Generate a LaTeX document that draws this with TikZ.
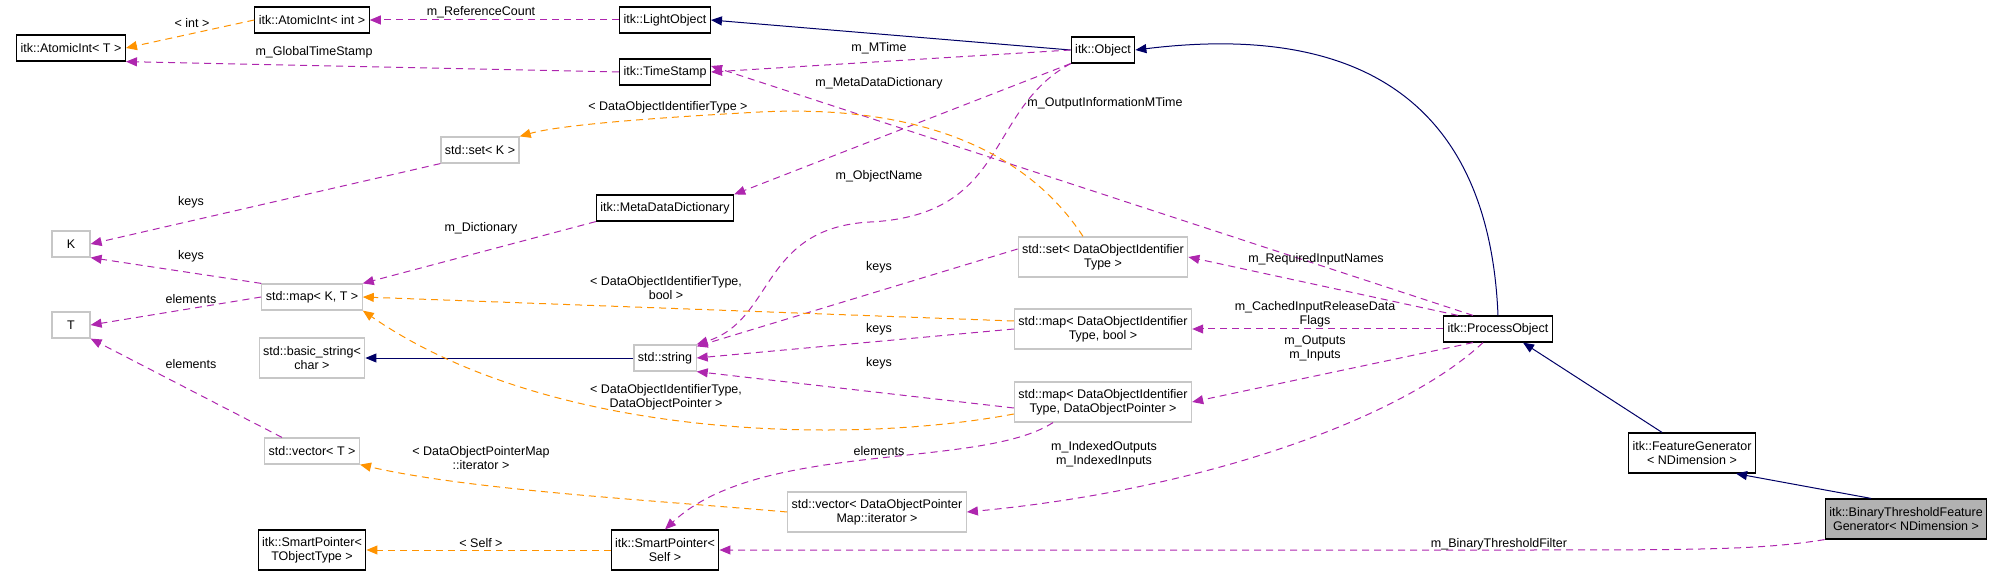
\documentclass[tikz,border=0pt]{standalone}
\usepackage{fontspec}
\setmainfont{Liberation Sans}
\usetikzlibrary{arrows.meta}
\begin{document}
\begin{tikzpicture}[x=1pt,y=-1pt,font=\fontsize{12.5}{14}\selectfont,
 cls/.style={draw=black,line width=1.2pt,fill=white,inner sep=4pt,align=center,minimum height=26pt},
 ext/.style={draw=black!22,line width=1.2pt,fill=white,inner sep=4pt,align=center,minimum height=26pt},
 two/.style={minimum height=40pt},
 inh/.style={-{Triangle[length=11pt,width=9pt]},draw=blue!40!black,line width=1pt},
 use/.style={-{Triangle[length=11pt,width=9pt]},draw=violet!75!magenta!85,line width=1pt,dash pattern=on 7pt off 5pt},
 tpl/.style={-{Triangle[length=11pt,width=9pt]},draw=orange!85!yellow,line width=1pt,dash pattern=on 7pt off 5pt},
 lbl/.style={align=center,inner sep=1pt}]
\useasboundingbox (0,0) rectangle (2003,577);
\node[cls] (ait) at (71,48) {itk::AtomicInt< T >};
\node[cls] (aii) at (312,20) {itk::AtomicInt< int >};
\node[cls] (lo) at (665,20) {itk::LightObject};
\node[cls] (ts) at (665,72) {itk::TimeStamp};
\node[cls] (obj) at (1103,50) {itk::Object};
\node[ext] (setk) at (480,150) {std::set< K >};
\node[cls] (mdd) at (665,208) {itk::MetaDataDictionary};
\node[ext,minimum width=38pt] (k) at (71,244) {K};
\node[ext] (mapkt) at (312,297) {std::map< K, T >};
\node[ext,minimum width=38pt] (t) at (71,325) {T};
\node[ext,two] (bs) at (312,358) {std::basic\_string<\\char >};
\node[ext] (str) at (665,358) {std::string};
\node[ext,two] (setdoi) at (1103,257) {std::set< DataObjectIdentifier\\Type >};
\node[ext,two] (mapb) at (1103,329) {std::map< DataObjectIdentifier\\Type, bool >};
\node[ext,two] (mapp) at (1103,402) {std::map< DataObjectIdentifier\\Type, DataObjectPointer >};
\node[ext] (vect) at (312,451) {std::vector< T >};
\node[ext,two] (vecp) at (877,512) {std::vector< DataObjectPointer\\Map::iterator >};
\node[cls,two] (spt) at (312,550) {itk::SmartPointer<\\TObjectType >};
\node[cls,two] (sps) at (665,550) {itk::SmartPointer<\\Self >};
\node[cls] (po) at (1498,329) {itk::ProcessObject};
\node[cls,two] (fg) at (1692,453) {itk::FeatureGenerator\\< NDimension >};
\node[cls,two,fill=black!30] (btf) at (1906,519) {itk::BinaryThresholdFeature\\Generator< NDimension >};

\draw[tpl] (aii.west) -- (ait.east);
\draw[use] (lo) -- (aii);
\draw[use] (ts.west) -- (ait.south east);
\draw[inh] (obj.west) -- (lo.east);
\draw[use] (obj.west) -- (ts.east);
\draw[use] (obj.south west) -- (mdd.north east);
\draw[use] (obj.south west) .. controls (985,110) and (1010,215) .. (870,222) .. controls (760,228) and (775,320) .. (str.north east);
\draw[inh] (po.north) .. controls (1490,120) and (1380,20) .. (obj.east);
\draw[use] ([xshift=-25pt]po.north) -- ([yshift=6pt]ts.east);
\draw[tpl] ([xshift=-20pt]setdoi.north) .. controls (1020,140) and (900,105) .. (760,112) .. controls (650,118) and (560,125) .. (setk.north east);
\draw[use] (setk.south west) -- (k.east);
\draw[use] (mdd.south west) -- (mapkt.north east);
\draw[use] (mapkt.north west) -- (k.south east);
\draw[use] (mapkt.west) -- (t.east);
\draw[use] ([xshift=-30pt]vect.north) -- (t.south east);
\draw[inh] (str) -- (bs);
\draw[use] ([yshift=8pt]setdoi.west) -- ([yshift=-2pt]str.north east);
\draw[use] (mapb.west) -- (str.east);
\draw[use] ([yshift=-6pt]mapp.west) -- (str.south east);
\draw[tpl] ([yshift=8pt]mapb.west) -- (mapkt.east);
\draw[tpl] ([yshift=-12pt]mapp.west) .. controls (850,445) and (550,440) .. (mapkt.south east);
\draw[tpl] (vecp.west) .. controls (650,500) and (470,490) .. (vect.south east);
\draw[use] ([xshift=-50pt]mapp.south) .. controls (980,470) and (760,440) .. (sps.north);
\draw[tpl] (sps) -- (spt);
\draw[use] ([xshift=-40pt]po.north) -- (setdoi.east);
\draw[use] (po.west) -- (mapb.east);
\draw[use] ([xshift=-25pt]po.south) -- (mapp.east);
\draw[use] ([xshift=-15pt]po.south) .. controls (1400,420) and (1200,490) .. (vecp.east);
\draw[inh] ([xshift=-30pt]fg.north) -- ([xshift=25pt]po.south);
\draw[inh] ([xshift=-35pt]btf.north) -- ([xshift=-20pt]fg.south east);
\draw[use] (btf.south west) .. controls (1760,550) and (1700,550) .. (1500,550) -- (sps.east);

\node[lbl] (l1) at (192,23) {< int >};
\node[lbl] (l2) at (481,12) {m\_ReferenceCount};
\node[lbl] (l3) at (314,52) {m\_GlobalTimeStamp};
\node[lbl] (l4) at (879,48) {m\_MTime};
\node[lbl] (l5) at (879,83) {m\_MetaDataDictionary};
\node[lbl] (l6) at (1105,103) {m\_OutputInformationMTime};
\node[lbl] (l7) at (668,107) {< DataObjectIdentifierType >};
\node[lbl] (l8) at (879,176) {m\_ObjectName};
\node[lbl] (l9) at (191,202) {keys};
\node[lbl] (l10) at (481,228) {m\_Dictionary};
\node[lbl] (l11) at (191,256) {keys};
\node[lbl] (l12) at (879,267) {keys};
\node[lbl] (l13) at (1316,259) {m\_RequiredInputNames};
\node[lbl] (l14) at (666,288) {< DataObjectIdentifierType,\\bool >};
\node[lbl] (l15) at (191,299) {elements};
\node[lbl] (l16) at (1315,314) {m\_CachedInputReleaseData\\Flags};
\node[lbl] (l17) at (879,329) {keys};
\node[lbl] (l18) at (1315,348) {m\_Outputs\\m\_Inputs};
\node[lbl] (l19) at (879,363) {keys};
\node[lbl] (l20) at (191,364) {elements};
\node[lbl] (l21) at (666,397) {< DataObjectIdentifierType,\\DataObjectPointer >};
\node[lbl] (l22) at (879,451) {elements};
\node[lbl] (l23) at (1104,454) {m\_IndexedOutputs\\m\_IndexedInputs};
\node[lbl] (l24) at (481,458) {< DataObjectPointerMap\\::iterator >};
\node[lbl] (l25) at (481,543) {< Self >};
\node[lbl] (l26) at (1499,544) {m\_BinaryThresholdFilter};
\end{tikzpicture}
\end{document}
